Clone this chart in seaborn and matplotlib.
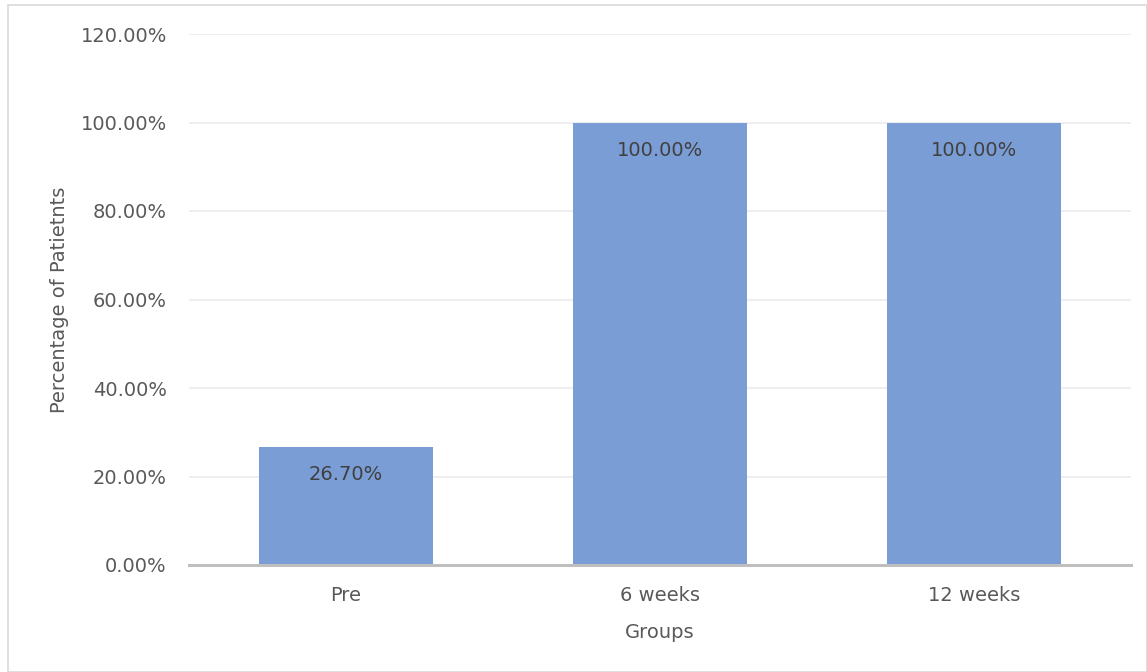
import matplotlib
matplotlib.use("Agg")
import matplotlib.pyplot as plt
import seaborn as sns
import pandas as pd
from matplotlib.patches import Rectangle
from matplotlib.ticker import FuncFormatter

categories = ["Pre", "6 weeks", "12 weeks"]
values = [26.70, 100.00, 100.00]
y_ticks = [0, 20, 40, 60, 80, 100, 120]

sns.set_theme(style="white")
plt.rcParams['font.family'] = ['DejaVu Sans']

df = pd.DataFrame({"Groups": categories, "Pct": values})

fig = plt.figure(figsize=(11.47, 6.72), dpi=100)
ax = fig.add_axes([189/1147, 1-565/672, (1131-189)/1147, (565-34)/672])

sns.barplot(data=df, x="Groups", y="Pct", color="#7A9DD5", width=0.555,
            saturation=1, linewidth=0, ax=ax, zorder=3)

ax.set_xlim(-0.5, 2.5)
ax.set_ylim(0, 120)
ax.set_yticks(y_ticks)
ax.yaxis.set_major_formatter(FuncFormatter(lambda v, p: f"{v:.2f}%"))
ax.grid(axis="y", color="#EBEBEB", linewidth=1.2, zorder=0)
ax.set_axisbelow(True)
for s in ["top", "right", "left"]:
    ax.spines[s].set_visible(False)
ax.spines["bottom"].set_color("#BFBFBF")
ax.spines["bottom"].set_linewidth(2.2)
ax.spines["bottom"].set_zorder(4)
ax.tick_params(axis="both", length=0, labelsize=14, colors="#595959")
ax.tick_params(axis="y", pad=16)
ax.tick_params(axis="x", pad=15)
ax.set_xlabel("Groups", fontsize=14, color="#595959", labelpad=13)
ax.set_ylabel("Percentage of Patietnts", fontsize=14, color="#595959", labelpad=8)

for c in ax.containers:
    ax.bar_label(c, labels=[f"{v:.2f}%" for v in values], label_type="edge",
                 padding=-27, fontsize=14, color="#404040")

fig.add_artist(Rectangle((8/1147, 0.0), 1-8/1147-0.5/1147, 1-5/672,
                         transform=fig.transFigure, fill=False,
                         edgecolor="#D9D9D9", linewidth=1.2))

fig.savefig("out.png", dpi=100, facecolor="white")
